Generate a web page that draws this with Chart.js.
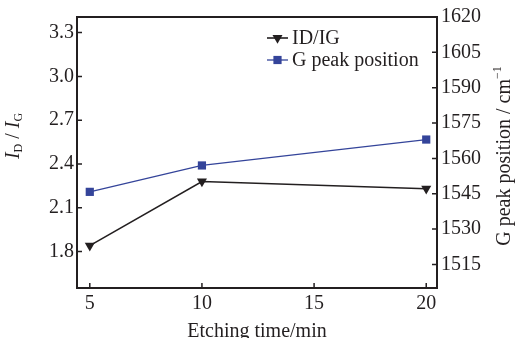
<!DOCTYPE html>
<html>
<head>
<meta charset="utf-8">
<script src="https://cdn.jsdelivr.net/npm/chart.js@4.4.1/dist/chart.umd.min.js"></script>
<style>
	html, body { margin: 0; padding: 0; background: #fff; }
	#wrap { width: 517px; height: 338px; }
</style>
</head>
<body>
<div id="wrap"><canvas id="chart"></canvas></div>
<script>
// Etching time (min) against D/G ratio and G peak position.
const etchTimes = [5, 10, 20];
const ratioDG = [1.84, 2.28, 2.23];
const gPeak = [1545.8, 1557, 1568];

const xTicks = [5, 10, 15, 20];
const ratioTicks = [1.8, 2.1, 2.4, 2.7, 3.0, 3.3];
const peakTicks = [1515, 1530, 1545, 1560, 1575, 1590, 1605, 1620];

const SERIF = '"Liberation Serif", "Times New Roman", serif';
const INK = '#231f20';
const BLUE = '#34449a';

const toPoints = ( ys ) => etchTimes.map( ( x, i ) => ( { x: x, y: ys[i] } ) );
const fixedTicks = ( values ) => ( scale ) => { scale.ticks = values.map( v => ( { value: v } ) ); };

// Box round the plot area with inward tick marks on three sides.
const frameAndTicks = {
	id: 'frameAndTicks',
	afterDatasetsDraw( chart ) {
		const { ctx, chartArea: a, scales } = chart;
		ctx.save();
		ctx.strokeStyle = INK;
		ctx.lineWidth = 1.5;
		ctx.beginPath();
		scales.x.ticks.forEach( t => {
			const px = scales.x.getPixelForValue( t.value );
			ctx.moveTo( px, a.bottom );
			ctx.lineTo( px, a.bottom - 5 );
		} );
		scales.y.ticks.forEach( t => {
			const py = scales.y.getPixelForValue( t.value );
			ctx.moveTo( a.left, py );
			ctx.lineTo( a.left + 5, py );
		} );
		scales.y1.ticks.forEach( t => {
			const py = scales.y1.getPixelForValue( t.value );
			ctx.moveTo( a.right, py );
			ctx.lineTo( a.right - 5, py );
		} );
		ctx.stroke();
		ctx.lineWidth = 2;
		ctx.strokeRect( a.left, a.top, a.right - a.left, a.bottom - a.top );
		ctx.restore();
	}
};

// Writes a run of differently styled pieces rotated to read bottom-to-top.
function drawRotatedRuns( ctx, runs, cx, cy ) {
	ctx.save();
	ctx.translate( cx, cy );
	ctx.rotate( -Math.PI / 2 );
	ctx.fillStyle = INK;
	ctx.textBaseline = 'middle';
	let total = 0;
	runs.forEach( r => { ctx.font = r.font; total += ctx.measureText( r.text ).width; } );
	let x = -total / 2;
	runs.forEach( r => {
		ctx.font = r.font;
		ctx.fillText( r.text, x, r.dy || 0 );
		x += ctx.measureText( r.text ).width;
	} );
	ctx.restore();
}

const axisTitles = {
	id: 'axisTitles',
	afterDraw( chart ) {
		const { ctx } = chart;
		drawRotatedRuns( ctx, [
			{ text: 'I', font: 'italic 20px ' + SERIF },
			{ text: 'D', font: '12px ' + SERIF, dy: 5 },
			{ text: ' / ', font: '20px ' + SERIF },
			{ text: 'I', font: 'italic 20px ' + SERIF },
			{ text: 'G', font: '12px ' + SERIF, dy: 5 },
		], 14, 136 );
		drawRotatedRuns( ctx, [
			{ text: 'G peak position / cm', font: '20px ' + SERIF },
			{ text: '\u22121', font: '12px ' + SERIF, dy: -7 },
		], 505, 156 );
	}
};

// Legend sits inside the plot, upper right.
const insideLegend = {
	id: 'insideLegend',
	afterDraw( chart ) {
		const { ctx, chartArea: a } = chart;
		const x0 = a.right - 170;
		ctx.save();
		chart.data.datasets.forEach( ( ds, i ) => {
			const y = a.top + 21 + i * 22;
			ctx.strokeStyle = ds.borderColor;
			ctx.lineWidth = ds.borderWidth;
			ctx.beginPath();
			ctx.moveTo( x0, y );
			ctx.lineTo( x0 + 21, y );
			ctx.stroke();
			ctx.fillStyle = ds.pointBackgroundColor;
			Chart.helpers.drawPoint( ctx, {
				pointStyle: ds.pointStyle,
				radius: ds.pointRadius,
				rotation: ds.pointRotation || 0,
				borderWidth: 0
			}, x0 + 10.5, y );
			ctx.fillStyle = INK;
			ctx.font = '20px ' + SERIF;
			ctx.textBaseline = 'middle';
			ctx.fillText( ds.label, x0 + 25, y + 1 );
		} );
		ctx.restore();
	}
};

const tickFont = { family: SERIF, size: 20 };

new Chart( document.getElementById( 'chart' ), {
	type: 'line',
	data: {
		datasets: [
			{
				label: 'ID/IG',
				data: toPoints( ratioDG ),
				yAxisID: 'y',
				borderColor: INK,
				borderWidth: 1.6,
				pointStyle: 'triangle',
				pointRotation: 180,
				pointRadius: 5.8,
				pointBackgroundColor: INK,
				pointBorderWidth: 0,
			},
			{
				label: 'G peak position',
				data: toPoints( gPeak ),
				yAxisID: 'y1',
				borderColor: BLUE,
				borderWidth: 1.3,
				pointStyle: 'rect',
				pointRadius: 5.8,
				pointBackgroundColor: BLUE,
				pointBorderWidth: 0,
			}
		]
	},
	options: {
		responsive: true,
		maintainAspectRatio: false,
		animation: false,
		layout: { padding: { top: 17, left: 0, right: 0, bottom: 0 } },
		plugins: {
			legend: { display: false },
			tooltip: { enabled: false }
		},
		scales: {
			x: {
				type: 'linear',
				min: 4.43,
				max: 20.48,
				afterBuildTicks: fixedTicks( xTicks ),
				afterFit: ( s ) => { s.height = 50; },
				grid: { display: false, drawTicks: false },
				border: { display: false },
				ticks: { font: tickFont, color: INK, padding: 4, maxRotation: 0 },
				title: {
					display: true,
					text: 'Etching time/min',
					font: tickFont,
					color: INK,
					padding: { top: 0, bottom: -6 }
				}
			},
			y: {
				position: 'left',
				min: 1.55,
				max: 3.407,
				afterBuildTicks: fixedTicks( ratioTicks ),
				afterFit: ( s ) => { s.width = 77; },
				grid: { display: false, drawTicks: false },
				border: { display: false },
				ticks: { font: tickFont, color: INK, padding: 3, callback: v => v.toFixed( 1 ) }
			},
			y1: {
				position: 'right',
				min: 1505,
				max: 1620,
				afterBuildTicks: fixedTicks( peakTicks ),
				afterFit: ( s ) => { s.width = 80; },
				grid: { display: false, drawTicks: false },
				border: { display: false },
				ticks: { font: tickFont, color: INK, padding: 4, callback: v => String( v ) }
			}
		}
	},
	plugins: [ frameAndTicks, axisTitles, insideLegend ]
} );
</script>
</body>
</html>
